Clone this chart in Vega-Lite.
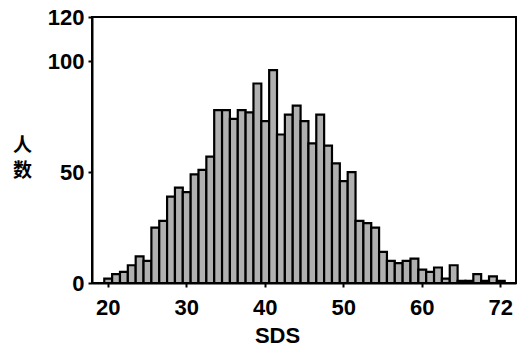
{
  "$schema": "https://vega.github.io/schema/vega-lite/v6.json",
  "width": 424,
  "height": 266,
  "autosize": "none",
  "padding": {"left": 92, "top": 17, "right": 7, "bottom": 68},
  "background": "white",
  "config": {
    "view": {"stroke": "black", "strokeWidth": 2},
    "axis": {
      "grid": false,
      "domainColor": "black",
      "domainWidth": 2,
      "tickColor": "black",
      "tickWidth": 2,
      "tickSize": 4,
      "labelColor": "black",
      "labelFont": "Liberation Sans",
      "labelFontSize": 22,
      "labelFontWeight": "bold",
      "titleColor": "black"
    }
  },
  "data": {
    "values": [
      {"sds": 20, "n": 2}, {"sds": 21, "n": 4}, {"sds": 22, "n": 5}, {"sds": 23, "n": 8},
      {"sds": 24, "n": 12}, {"sds": 25, "n": 10}, {"sds": 26, "n": 25}, {"sds": 27, "n": 28},
      {"sds": 28, "n": 39}, {"sds": 29, "n": 43}, {"sds": 30, "n": 41}, {"sds": 31, "n": 49},
      {"sds": 32, "n": 51}, {"sds": 33, "n": 57}, {"sds": 34, "n": 78}, {"sds": 35, "n": 78},
      {"sds": 36, "n": 74}, {"sds": 37, "n": 78}, {"sds": 38, "n": 77}, {"sds": 39, "n": 90},
      {"sds": 40, "n": 73}, {"sds": 41, "n": 96}, {"sds": 42, "n": 67}, {"sds": 43, "n": 76},
      {"sds": 44, "n": 80}, {"sds": 45, "n": 73}, {"sds": 46, "n": 63}, {"sds": 47, "n": 76},
      {"sds": 48, "n": 62}, {"sds": 49, "n": 54}, {"sds": 50, "n": 46}, {"sds": 51, "n": 50},
      {"sds": 52, "n": 28}, {"sds": 53, "n": 27}, {"sds": 54, "n": 25}, {"sds": 55, "n": 14},
      {"sds": 56, "n": 10}, {"sds": 57, "n": 9}, {"sds": 58, "n": 10}, {"sds": 59, "n": 11},
      {"sds": 60, "n": 6}, {"sds": 61, "n": 5}, {"sds": 62, "n": 7}, {"sds": 63, "n": 2},
      {"sds": 64, "n": 8}, {"sds": 65, "n": 1}, {"sds": 66, "n": 1}, {"sds": 67, "n": 4},
      {"sds": 68, "n": 1}, {"sds": 69, "n": 3}, {"sds": 70, "n": 1}
    ]
  },
  "mark": {"type": "bar", "fill": "#b0b0b0", "stroke": "black", "strokeWidth": 2.2, "binSpacing": 0},
  "encoding": {
    "x": {
      "field": "sds",
      "type": "quantitative",
      "bin": {"step": 1, "anchor": 0.5, "extent": [19.5, 70.5], "nice": false},
      "scale": {"domain": [18, 72], "nice": false, "zero": false},
      "axis": {
        "values": [20, 30, 40, 50, 60, 70],
        "labelExpr": "datum.value == 70 ? '72' : format(datum.value, 'd')",
        "labelPadding": 10,
        "title": "SDS",
        "titleFont": "Liberation Sans",
        "titleFontSize": 22,
        "titleFontWeight": "bold",
        "titleX": 185,
        "titleY": 42,
        "titleBaseline": "top",
        "titleAlign": "center"
      }
    },
    "y": {
      "field": "n",
      "type": "quantitative",
      "aggregate": "sum",
      "scale": {"domain": [0, 120], "nice": false},
      "axis": {
        "values": [0, 50, 100, 120],
        "labelPadding": 4,
        "title": ["人", "数"],
        "titleFont": "Noto Sans CJK SC",
        "titleFontSize": 19,
        "titleFontWeight": "bold",
        "titleAngle": 0,
        "titleAlign": "center",
        "titleBaseline": "top",
        "titleLineHeight": 25,
        "titleX": -70,
        "titleY": 119
      }
    }
  }
}
